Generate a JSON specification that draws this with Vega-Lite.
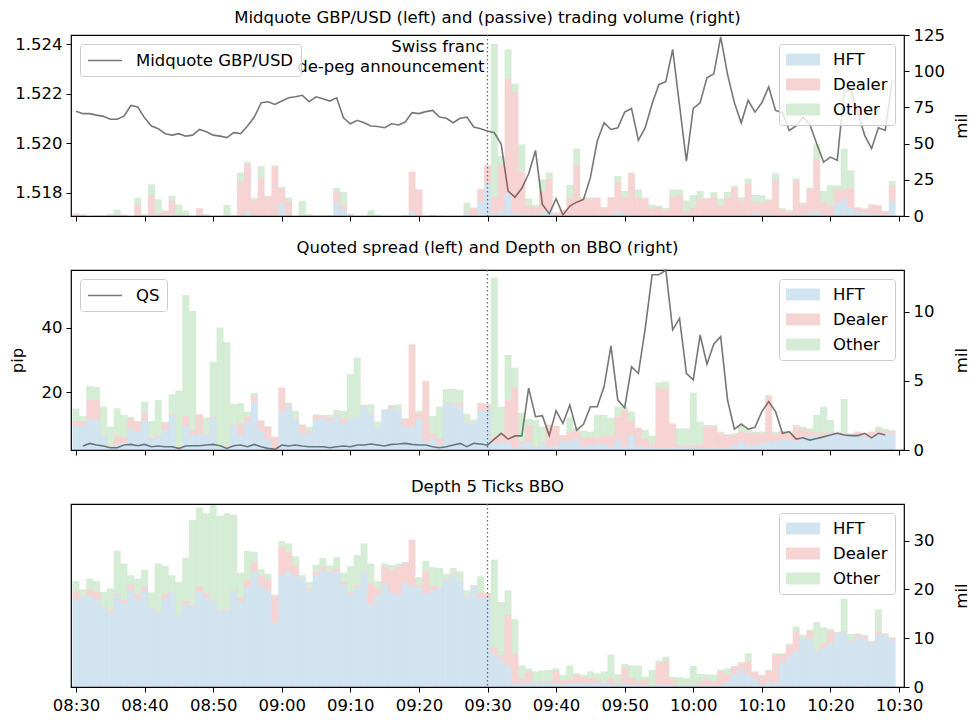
{
"$schema": "https://vega.github.io/schema/vega-lite/v6.json",
"padding": {"left": 8, "top": 8, "right": 5, "bottom": 5},
"background": "white",
"bounds": "flush",
"spacing": 54,
"config": {
  "font": "DejaVu Sans",
  "view": {"stroke": "black", "strokeWidth": 1.2},
  "axis": {"domain": false, "grid": false, "ticks": true, "tickColor": "black", "tickSize": 5, "tickWidth": 1, "labelFontSize": 16.5, "labelColor": "black", "labelFont": "DejaVu Sans", "labelPadding": 4, "labelOverlap": false, "labelFlush": false, "titleFontSize": 16.5, "titleFontWeight": "normal", "titleColor": "black", "titleFont": "DejaVu Sans"},
  "title": {"fontSize": 16.5, "fontWeight": "normal", "font": "DejaVu Sans", "color": "black", "offset": 8, "anchor": "middle"},
  "legend": {"labelFontSize": 16.5, "labelFont": "DejaVu Sans", "labelColor": "black", "labelLimit": 300, "fillColor": "rgba(255,255,255,0.8)", "strokeColor": "#cccccc", "cornerRadius": 3, "padding": 7, "offset": 9, "rowPadding": 8, "symbolSize": 289, "labelOffset": 30}
},
"resolve": {"scale": {"fill": "independent", "stroke": "independent"}},
"datasets": {
"order": [{"type":"HFT","rank":1},{"type":"Dealer","rank":2},{"type":"Other","rank":3}],
"mid": [
{"m":0,"mid":1.52130},{"m":1,"mid":1.52120},{"m":2,"mid":1.52120},{"m":3,"mid":1.52114},{"m":4,"mid":1.52109},{"m":5,"mid":1.52097},{"m":6,"mid":1.52097},{"m":7,"mid":1.52110},{"m":8,"mid":1.52153},{"m":9,"mid":1.52147},
{"m":10,"mid":1.52103},{"m":11,"mid":1.52070},{"m":12,"mid":1.52059},{"m":13,"mid":1.52039},{"m":14,"mid":1.52033},{"m":15,"mid":1.52039},{"m":16,"mid":1.52029},{"m":17,"mid":1.52033},{"m":18,"mid":1.52056},{"m":19,"mid":1.52047},
{"m":20,"mid":1.52033},{"m":21,"mid":1.52029},{"m":22,"mid":1.52023},{"m":23,"mid":1.52043},{"m":24,"mid":1.52039},{"m":25,"mid":1.52070},{"m":26,"mid":1.52106},{"m":27,"mid":1.52164},{"m":28,"mid":1.52168},{"m":29,"mid":1.52157},
{"m":30,"mid":1.52171},{"m":31,"mid":1.52184},{"m":32,"mid":1.52188},{"m":33,"mid":1.52194},{"m":34,"mid":1.52168},{"m":35,"mid":1.52188},{"m":36,"mid":1.52180},{"m":37,"mid":1.52171},{"m":38,"mid":1.52184},{"m":39,"mid":1.52103},
{"m":40,"mid":1.52079},{"m":41,"mid":1.52093},{"m":42,"mid":1.52083},{"m":43,"mid":1.52070},{"m":44,"mid":1.52068},{"m":45,"mid":1.52063},{"m":46,"mid":1.52079},{"m":47,"mid":1.52074},{"m":48,"mid":1.52086},{"m":49,"mid":1.52124},
{"m":50,"mid":1.52120},{"m":51,"mid":1.52128},{"m":52,"mid":1.52133},{"m":53,"mid":1.52106},{"m":54,"mid":1.52101},{"m":55,"mid":1.52083},{"m":56,"mid":1.52101},{"m":57,"mid":1.52106},{"m":58,"mid":1.52066},{"m":59,"mid":1.52059},
{"m":60,"mid":1.52050},{"m":61,"mid":1.52043},{"m":62,"mid":1.51996},{"m":63,"mid":1.51807},{"m":64,"mid":1.51782},{"m":65,"mid":1.51818},{"m":66,"mid":1.51877},{"m":67,"mid":1.51971},{"m":68,"mid":1.51753},{"m":69,"mid":1.51715},
{"m":70,"mid":1.51776},{"m":71,"mid":1.51710},{"m":72,"mid":1.51746},{"m":73,"mid":1.51762},{"m":74,"mid":1.51773},{"m":75,"mid":1.51861},{"m":76,"mid":1.52009},{"m":77,"mid":1.52083},{"m":78,"mid":1.52056},{"m":79,"mid":1.52063},
{"m":80,"mid":1.52126},{"m":81,"mid":1.52141},{"m":82,"mid":1.52012},{"m":83,"mid":1.52063},{"m":84,"mid":1.52160},{"m":85,"mid":1.52238},{"m":86,"mid":1.52249},{"m":87,"mid":1.52380},{"m":88,"mid":1.52153},{"m":89,"mid":1.51928},
{"m":90,"mid":1.52141},{"m":91,"mid":1.52164},{"m":92,"mid":1.52265},{"m":93,"mid":1.52281},{"m":94,"mid":1.52430},{"m":95,"mid":1.52279},{"m":96,"mid":1.52164},{"m":97,"mid":1.52083},{"m":98,"mid":1.52174},{"m":99,"mid":1.52126},
{"m":100,"mid":1.52164},{"m":101,"mid":1.52228},{"m":102,"mid":1.52133},{"m":103,"mid":1.52124},{"m":104,"mid":1.52052},{"m":105,"mid":1.52070},{"m":106,"mid":1.52106},{"m":107,"mid":1.52076},{"m":108,"mid":1.51998},{"m":109,"mid":1.51924},
{"m":110,"mid":1.51944},{"m":111,"mid":1.51931},{"m":112,"mid":1.52211},{"m":113,"mid":1.52214},{"m":114,"mid":1.52124},{"m":115,"mid":1.52032},{"m":116,"mid":1.51979},{"m":117,"mid":1.52063},{"m":118,"mid":1.52052},{"m":119,"mid":1.52254}
],
"qs": [
{"m":1,"qs":3.13},{"m":2,"qs":3.96},{"m":3,"qs":3.44},{"m":4,"qs":3.13},{"m":5,"qs":2.6},{"m":6,"qs":2.6},{"m":7,"qs":3.44},{"m":8,"qs":3.65},{"m":9,"qs":3.23},
{"m":10,"qs":3.65},{"m":11,"qs":2.92},{"m":12,"qs":3.13},{"m":13,"qs":2.92},{"m":14,"qs":2.92},{"m":15,"qs":2.4},{"m":16,"qs":3.13},{"m":17,"qs":3.23},{"m":18,"qs":3.23},{"m":19,"qs":3.44},
{"m":20,"qs":3.65},{"m":21,"qs":3.23},{"m":22,"qs":2.4},{"m":23,"qs":3.23},{"m":24,"qs":3.44},{"m":25,"qs":2.92},{"m":26,"qs":3.65},{"m":27,"qs":2.92},{"m":28,"qs":2.4},{"m":29,"qs":2.1},
{"m":30,"qs":3.44},{"m":31,"qs":3.13},{"m":32,"qs":3.44},{"m":33,"qs":3.13},{"m":34,"qs":2.92},{"m":35,"qs":2.92},{"m":36,"qs":2.92},{"m":37,"qs":2.6},{"m":38,"qs":2.92},{"m":39,"qs":3.13},
{"m":40,"qs":2.92},{"m":41,"qs":3.44},{"m":42,"qs":3.44},{"m":43,"qs":3.75},{"m":44,"qs":3.44},{"m":45,"qs":3.13},{"m":46,"qs":3.65},{"m":47,"qs":3.75},{"m":48,"qs":3.96},{"m":49,"qs":3.65},
{"m":50,"qs":3.44},{"m":51,"qs":3.44},{"m":52,"qs":2.92},{"m":53,"qs":2.6},{"m":54,"qs":2.92},{"m":55,"qs":3.44},{"m":56,"qs":3.96},{"m":57,"qs":2.92},{"m":58,"qs":3.96},{"m":59,"qs":3.75},
{"m":60,"qs":3.4},{"m":61,"qs":5.3},{"m":62,"qs":7.1},{"m":63,"qs":5.3},{"m":64,"qs":6.3},{"m":65,"qs":6.3},{"m":66,"qs":21.2},{"m":67,"qs":12.3},{"m":68,"qs":12.6},{"m":69,"qs":6.4},
{"m":70,"qs":14.2},{"m":71,"qs":10.2},{"m":72,"qs":15.9},{"m":73,"qs":8.1},{"m":74,"qs":9.9},{"m":75,"qs":15.4},{"m":76,"qs":15.4},{"m":77,"qs":21.7},{"m":78,"qs":34.4},{"m":79,"qs":17.5},
{"m":80,"qs":15.1},{"m":81,"qs":27.9},{"m":82,"qs":25.8},{"m":83,"qs":39.9},{"m":84,"qs":56.6},{"m":85,"qs":56.6},{"m":86,"qs":58.1},{"m":87,"qs":39.4},{"m":88,"qs":43.0},{"m":89,"qs":25.8},
{"m":90,"qs":23.8},{"m":91,"qs":37.8},{"m":92,"qs":28.7},{"m":93,"qs":35.0},{"m":94,"qs":37.3},{"m":95,"qs":17.5},{"m":96,"qs":8.4},{"m":97,"qs":10.0},{"m":98,"qs":8.4},{"m":99,"qs":9.0},
{"m":100,"qs":13.9},{"m":101,"qs":17.0},{"m":102,"qs":13.9},{"m":103,"qs":7.1},{"m":104,"qs":7.6},{"m":105,"qs":5.3},{"m":106,"qs":5.7},{"m":107,"qs":5.0},{"m":108,"qs":5.5},{"m":109,"qs":6.0},
{"m":110,"qs":6.6},{"m":111,"qs":7.1},{"m":112,"qs":6.6},{"m":113,"qs":6.4},{"m":114,"qs":6.4},{"m":115,"qs":7.1},{"m":116,"qs":5.7},{"m":117,"qs":7.1},{"m":118,"qs":6.6}
],
"vol": [
{"m":0,"HFT":0,"Dealer":1.5,"Other":0.3},{"m":1,"HFT":0,"Dealer":1,"Other":0},{"m":2,"HFT":0,"Dealer":0,"Other":0},{"m":3,"HFT":0,"Dealer":0.3,"Other":0},{"m":4,"HFT":0,"Dealer":0,"Other":0.5},
{"m":5,"HFT":0,"Dealer":0.5,"Other":1},{"m":6,"HFT":0.3,"Dealer":0.5,"Other":3.5},{"m":7,"HFT":0,"Dealer":1,"Other":0},{"m":8,"HFT":0,"Dealer":0,"Other":0},{"m":9,"HFT":0,"Dealer":7.6,"Other":5},
{"m":10,"HFT":0,"Dealer":0.3,"Other":1},{"m":11,"HFT":0.5,"Dealer":14,"Other":7.4},{"m":12,"HFT":0.5,"Dealer":1,"Other":10},{"m":13,"HFT":0,"Dealer":3.5,"Other":0.3},{"m":14,"HFT":1,"Dealer":9.5,"Other":3.5},
{"m":15,"HFT":0.3,"Dealer":0.5,"Other":7},{"m":16,"HFT":0,"Dealer":0.3,"Other":3.5},{"m":17,"HFT":0,"Dealer":0,"Other":0},{"m":18,"HFT":0,"Dealer":5.3,"Other":0},{"m":19,"HFT":0,"Dealer":0.3,"Other":1},
{"m":20,"HFT":0,"Dealer":0,"Other":0},{"m":21,"HFT":0,"Dealer":0,"Other":0},{"m":22,"HFT":0,"Dealer":0,"Other":7.6},{"m":23,"HFT":0,"Dealer":0.5,"Other":0},{"m":24,"HFT":0,"Dealer":23.5,"Other":6.4},
{"m":25,"HFT":2.8,"Dealer":33,"Other":1.6},{"m":26,"HFT":0,"Dealer":10.8,"Other":1.8},{"m":27,"HFT":0,"Dealer":26.5,"Other":8},{"m":28,"HFT":0,"Dealer":13.5,"Other":0.5},{"m":29,"HFT":0,"Dealer":34.3,"Other":0.7},
{"m":30,"HFT":8.5,"Dealer":10.4,"Other":1.2},{"m":31,"HFT":0,"Dealer":10.4,"Other":2.3},{"m":32,"HFT":0,"Dealer":0,"Other":0},{"m":33,"HFT":0,"Dealer":0.5,"Other":10},{"m":34,"HFT":0,"Dealer":0.3,"Other":1},
{"m":35,"HFT":0,"Dealer":0.5,"Other":0},{"m":36,"HFT":0,"Dealer":0.5,"Other":0},{"m":37,"HFT":0,"Dealer":0.5,"Other":0},{"m":38,"HFT":9.2,"Dealer":8,"Other":2.3},{"m":39,"HFT":4.6,"Dealer":3,"Other":9},
{"m":40,"HFT":0,"Dealer":1.5,"Other":0},{"m":41,"HFT":0,"Dealer":0,"Other":0},{"m":42,"HFT":0,"Dealer":0,"Other":0},{"m":43,"HFT":0,"Dealer":0,"Other":4},{"m":44,"HFT":0,"Dealer":0,"Other":1},
{"m":45,"HFT":0,"Dealer":0,"Other":0},{"m":46,"HFT":0,"Dealer":0,"Other":0},{"m":47,"HFT":0,"Dealer":0,"Other":0},{"m":48,"HFT":0,"Dealer":0.5,"Other":0},{"m":49,"HFT":3,"Dealer":27.4,"Other":0.3},
{"m":50,"HFT":0,"Dealer":18.4,"Other":0},{"m":51,"HFT":0,"Dealer":0.3,"Other":0},{"m":52,"HFT":0,"Dealer":1,"Other":0},{"m":53,"HFT":0,"Dealer":0.3,"Other":0},{"m":54,"HFT":0,"Dealer":0,"Other":0},
{"m":55,"HFT":0,"Dealer":0,"Other":0},{"m":56,"HFT":0,"Dealer":0,"Other":0},{"m":57,"HFT":2.3,"Dealer":1.2,"Other":5.7},{"m":58,"HFT":0,"Dealer":5.8,"Other":0},{"m":59,"HFT":9.7,"Dealer":8.9,"Other":0},
{"m":60,"HFT":22.3,"Dealer":12.9,"Other":0},{"m":61,"HFT":1,"Dealer":12,"Other":106},{"m":62,"HFT":3.5,"Dealer":31.7,"Other":6.2},{"m":63,"HFT":15.4,"Dealer":79.4,"Other":20.3},{"m":64,"HFT":2,"Dealer":83.6,"Other":5.8},
{"m":65,"HFT":1.5,"Dealer":29,"Other":19},{"m":66,"HFT":1,"Dealer":6,"Other":5},{"m":67,"HFT":1,"Dealer":5,"Other":1.6},{"m":68,"HFT":2,"Dealer":15.3,"Other":8},{"m":69,"HFT":4,"Dealer":22,"Other":4},
{"m":70,"HFT":0,"Dealer":2,"Other":0.5},{"m":71,"HFT":0.5,"Dealer":4,"Other":0},{"m":72,"HFT":0.5,"Dealer":12,"Other":9},{"m":73,"HFT":0.5,"Dealer":34.5,"Other":11.5},{"m":74,"HFT":0.5,"Dealer":12,"Other":0.5},
{"m":75,"HFT":0.5,"Dealer":11,"Other":1.3},{"m":76,"HFT":0.5,"Dealer":12,"Other":0.3},{"m":77,"HFT":0.3,"Dealer":5.5,"Other":0.3},{"m":78,"HFT":0.5,"Dealer":12.2,"Other":0.3},{"m":79,"HFT":3,"Dealer":20.5,"Other":4.1},
{"m":80,"HFT":1.6,"Dealer":11.5,"Other":4.2},{"m":81,"HFT":0.5,"Dealer":29,"Other":0.5},{"m":82,"HFT":0.3,"Dealer":12.8,"Other":5.3},{"m":83,"HFT":0.3,"Dealer":11.2,"Other":1.2},{"m":84,"HFT":0,"Dealer":5,"Other":3},
{"m":85,"HFT":0,"Dealer":6.2,"Other":1},{"m":86,"HFT":0,"Dealer":4,"Other":1.5},{"m":87,"HFT":0,"Dealer":13,"Other":5.3},{"m":88,"HFT":0,"Dealer":14.5,"Other":3.7},{"m":89,"HFT":0,"Dealer":3,"Other":7.8},
{"m":90,"HFT":0,"Dealer":5.8,"Other":8.7},{"m":91,"HFT":0,"Dealer":12.2,"Other":5},{"m":92,"HFT":0,"Dealer":12,"Other":0.3},{"m":93,"HFT":0.2,"Dealer":12.8,"Other":3.6},{"m":94,"HFT":0.5,"Dealer":6.5,"Other":5},
{"m":95,"HFT":0.5,"Dealer":12.2,"Other":3.9},{"m":96,"HFT":0.5,"Dealer":19,"Other":1.2},{"m":97,"HFT":0.5,"Dealer":10.3,"Other":2.2},{"m":98,"HFT":0.7,"Dealer":21.6,"Other":3.5},{"m":99,"HFT":2,"Dealer":7.9,"Other":4.6},
{"m":100,"HFT":0.5,"Dealer":8.7,"Other":5.1},{"m":101,"HFT":1,"Dealer":9.8,"Other":0.7},{"m":102,"HFT":0.5,"Dealer":24.8,"Other":4.2},{"m":103,"HFT":0.3,"Dealer":4.3,"Other":0.7},{"m":104,"HFT":0,"Dealer":2.8,"Other":1.3},
{"m":105,"HFT":1,"Dealer":23.2,"Other":1.8},{"m":106,"HFT":1,"Dealer":7.5,"Other":0.9},{"m":107,"HFT":2,"Dealer":16.9,"Other":0.7},{"m":108,"HFT":3,"Dealer":36.6,"Other":9.9},{"m":109,"HFT":1,"Dealer":8.7,"Other":7.6},
{"m":110,"HFT":1,"Dealer":6.4,"Other":13.8},{"m":111,"HFT":8.7,"Dealer":9.7,"Other":2.8},{"m":112,"HFT":11.5,"Dealer":6.9,"Other":28.1},{"m":113,"HFT":5.8,"Dealer":13.3,"Other":12.4},{"m":114,"HFT":2.3,"Dealer":3.5,"Other":0.3},
{"m":115,"HFT":2,"Dealer":3,"Other":0.3},{"m":116,"HFT":1.5,"Dealer":6.3,"Other":0.3},{"m":117,"HFT":1,"Dealer":6.4,"Other":0.2},{"m":118,"HFT":0.8,"Dealer":2.7,"Other":0},{"m":119,"HFT":10.4,"Dealer":10.8,"Other":3}
],
"bbo": [
{"m":0,"HFT":1.76,"Dealer":0.34,"Other":0.9},{"m":1,"HFT":1.76,"Dealer":0.34,"Other":0.36},{"m":2,"HFT":2.25,"Dealer":1.37,"Other":1.02},{"m":3,"HFT":2.17,"Dealer":1.45,"Other":0.95},{"m":4,"HFT":1.09,"Dealer":0.05,"Other":2.0},
{"m":5,"HFT":0.17,"Dealer":0.1,"Other":1.42},{"m":6,"HFT":0.36,"Dealer":0.68,"Other":1.98},{"m":7,"HFT":0.48,"Dealer":0.48,"Other":1.58},{"m":8,"HFT":1.52,"Dealer":0.77,"Other":0.12},{"m":9,"HFT":1.33,"Dealer":0.72,"Other":0.05},
{"m":10,"HFT":2.17,"Dealer":0.53,"Other":0.8},{"m":11,"HFT":0.72,"Dealer":0.13,"Other":1.25},{"m":12,"HFT":0.92,"Dealer":0.12,"Other":2.58},{"m":13,"HFT":1.45,"Dealer":0.53,"Other":0.05},{"m":14,"HFT":2.49,"Dealer":0.1,"Other":1.44},
{"m":15,"HFT":0.1,"Dealer":0.1,"Other":4.1},{"m":16,"HFT":1.69,"Dealer":0.77,"Other":8.77},{"m":17,"HFT":1.09,"Dealer":0.36,"Other":8.62},{"m":18,"HFT":1.14,"Dealer":1.45,"Other":0},{"m":19,"HFT":1.04,"Dealer":0.1,"Other":1.2},
{"m":20,"HFT":2.34,"Dealer":0.08,"Other":3.98},{"m":21,"HFT":0.29,"Dealer":0.07,"Other":8.5},{"m":22,"HFT":0.24,"Dealer":0.1,"Other":7.46},{"m":23,"HFT":1.81,"Dealer":0.05,"Other":1.47},{"m":24,"HFT":1.09,"Dealer":0.84,"Other":1.47},
{"m":25,"HFT":2.05,"Dealer":0.37,"Other":0.36},{"m":26,"HFT":3.5,"Dealer":0.41,"Other":0.22},{"m":27,"HFT":1.4,"Dealer":0.7,"Other":0.05},{"m":28,"HFT":0.72,"Dealer":0.95,"Other":0.05},{"m":29,"HFT":0.05,"Dealer":0.9,"Other":0},
{"m":30,"HFT":2.78,"Dealer":1.74,"Other":0},{"m":31,"HFT":3.19,"Dealer":0.12,"Other":0.12},{"m":32,"HFT":2.25,"Dealer":0.05,"Other":0.53},{"m":33,"HFT":1.21,"Dealer":0.6,"Other":0.05},{"m":34,"HFT":1.21,"Dealer":0.17,"Other":0.31},
{"m":35,"HFT":2.22,"Dealer":0.32,"Other":0.04},{"m":36,"HFT":2.34,"Dealer":0.15,"Other":0.05},{"m":37,"HFT":2.1,"Dealer":0.24,"Other":0.2},{"m":38,"HFT":2.42,"Dealer":0.12,"Other":0.36},{"m":39,"HFT":1.93,"Dealer":0.36,"Other":0.54},
{"m":40,"HFT":2.25,"Dealer":0.04,"Other":3.21},{"m":41,"HFT":2.3,"Dealer":0.05,"Other":4.35},{"m":42,"HFT":3.19,"Dealer":0.03,"Other":0.05},{"m":43,"HFT":2.66,"Dealer":0.03,"Other":0.62},{"m":44,"HFT":1.57,"Dealer":0.02,"Other":0.46},
{"m":45,"HFT":2.9,"Dealer":0.03,"Other":0.02},{"m":46,"HFT":3.02,"Dealer":0.19,"Other":0.05},{"m":47,"HFT":2.9,"Dealer":0.05,"Other":0.36},{"m":48,"HFT":1.69,"Dealer":0.6,"Other":0},{"m":49,"HFT":1.62,"Dealer":6.04,"Other":0},
{"m":50,"HFT":2.25,"Dealer":0.41,"Other":0.17},{"m":51,"HFT":0.6,"Dealer":4.4,"Other":0},{"m":52,"HFT":0.85,"Dealer":0.35,"Other":1.26},{"m":53,"HFT":0.36,"Dealer":0.49,"Other":2.29},{"m":54,"HFT":3.38,"Dealer":0.05,"Other":0.99},
{"m":55,"HFT":3.31,"Dealer":0.07,"Other":1.04},{"m":56,"HFT":3.14,"Dealer":0.24,"Other":0.97},{"m":57,"HFT":2.0,"Dealer":0.05,"Other":0.56},{"m":58,"HFT":2.0,"Dealer":0.05,"Other":0.17},{"m":59,"HFT":2.85,"Dealer":0.53,"Other":0.05},
{"m":60,"HFT":2.9,"Dealer":0.35,"Other":0.1},{"m":61,"HFT":0.48,"Dealer":0.49,"Other":11.52},{"m":62,"HFT":0.6,"Dealer":0.6,"Other":1.93},{"m":63,"HFT":0.48,"Dealer":3.14,"Other":3.26},{"m":64,"HFT":0.12,"Dealer":4.35,"Other":1.5},
{"m":65,"HFT":0.4,"Dealer":0.2,"Other":2.1},{"m":66,"HFT":0.56,"Dealer":1.25,"Other":0.44},{"m":67,"HFT":0.17,"Dealer":0.07,"Other":1.93},{"m":68,"HFT":0.48,"Dealer":0.12,"Other":1.09},{"m":69,"HFT":0.17,"Dealer":1.64,"Other":0.05},
{"m":70,"HFT":0.29,"Dealer":1.47,"Other":0},{"m":71,"HFT":0.65,"Dealer":0.39,"Other":0.05},{"m":72,"HFT":0.65,"Dealer":0.63,"Other":1.06},{"m":73,"HFT":0.8,"Dealer":0.65,"Other":0.12},{"m":74,"HFT":0.29,"Dealer":0.6,"Other":0.51},
{"m":75,"HFT":0.36,"Dealer":0.61,"Other":0.36},{"m":76,"HFT":0.41,"Dealer":0.44,"Other":1.69},{"m":77,"HFT":0.43,"Dealer":0.61,"Other":1.5},{"m":78,"HFT":0.24,"Dealer":0.8,"Other":1.3},{"m":79,"HFT":0.72,"Dealer":1.7,"Other":0.72},
{"m":80,"HFT":0.24,"Dealer":2.66,"Other":0.24},{"m":81,"HFT":1.09,"Dealer":1.01,"Other":0.68},{"m":82,"HFT":0.24,"Dealer":1.33,"Other":0.05},{"m":83,"HFT":0.24,"Dealer":0.61,"Other":0.6},{"m":84,"HFT":0.17,"Dealer":0.31,"Other":0.56},
{"m":85,"HFT":0.12,"Dealer":4.47,"Other":0.31},{"m":86,"HFT":0.12,"Dealer":4.3,"Other":0.53},{"m":87,"HFT":0.17,"Dealer":1.74,"Other":0.02},{"m":88,"HFT":0.24,"Dealer":0.12,"Other":1.21},{"m":89,"HFT":0.24,"Dealer":0.12,"Other":1.21},
{"m":90,"HFT":0.24,"Dealer":0.12,"Other":3.79},{"m":91,"HFT":0.12,"Dealer":0.29,"Other":1.64},{"m":92,"HFT":0.12,"Dealer":1.57,"Other":0.12},{"m":93,"HFT":0.17,"Dealer":1.52,"Other":0.12},{"m":94,"HFT":0.12,"Dealer":1.09,"Other":0.12},
{"m":95,"HFT":0.17,"Dealer":0.92,"Other":0.05},{"m":96,"HFT":0.36,"Dealer":0.78,"Other":0.07},{"m":97,"HFT":0.6,"Dealer":0.73,"Other":0.48},{"m":98,"HFT":0.36,"Dealer":0.9,"Other":0.24},{"m":99,"HFT":0.36,"Dealer":0.85,"Other":0.12},
{"m":100,"HFT":0.48,"Dealer":0.73,"Other":0.12},{"m":101,"HFT":0.6,"Dealer":3.26,"Other":0.13},{"m":102,"HFT":0.65,"Dealer":0.49,"Other":0.19},{"m":103,"HFT":0.72,"Dealer":0.61,"Other":0.07},{"m":104,"HFT":0.72,"Dealer":0.49,"Other":0.12},
{"m":105,"HFT":0.65,"Dealer":1.04,"Other":0.12},{"m":106,"HFT":0.89,"Dealer":0.63,"Other":0.17},{"m":107,"HFT":1.04,"Dealer":0.29,"Other":0.24},{"m":108,"HFT":1.04,"Dealer":0.24,"Other":1.26},{"m":109,"HFT":0.97,"Dealer":0.24,"Other":1.93},
{"m":110,"HFT":1.21,"Dealer":0.12,"Other":0.84},{"m":111,"HFT":1.21,"Dealer":0.07,"Other":0.05},{"m":112,"HFT":1.09,"Dealer":0.12,"Other":2.49},{"m":113,"HFT":1.09,"Dealer":0.05,"Other":0.07},{"m":114,"HFT":1.04,"Dealer":0.29,"Other":0},
{"m":115,"HFT":0.97,"Dealer":0.24,"Other":0},{"m":116,"HFT":0.97,"Dealer":0.36,"Other":0},{"m":117,"HFT":1.14,"Dealer":0.31,"Other":0.24},{"m":118,"HFT":1.21,"Dealer":0.12,"Other":0.19},{"m":119,"HFT":1.21,"Dealer":0.17,"Other":0.05}
],
"d5": [
{"m":0,"HFT":17.9,"Dealer":1.7,"Other":2.1},{"m":1,"HFT":18.3,"Dealer":0.3,"Other":1.4},{"m":2,"HFT":18.7,"Dealer":1.3,"Other":2.2},{"m":3,"HFT":17.8,"Dealer":1.8,"Other":2.1},{"m":4,"HFT":16.4,"Dealer":0.1,"Other":3.0},
{"m":5,"HFT":15.3,"Dealer":0.6,"Other":4.3},{"m":6,"HFT":18.6,"Dealer":0.5,"Other":8.8},{"m":7,"HFT":17.2,"Dealer":0.7,"Other":7.4},{"m":8,"HFT":19.8,"Dealer":1.2,"Other":1.9},{"m":9,"HFT":18.1,"Dealer":1.0,"Other":3.1},
{"m":10,"HFT":19.8,"Dealer":0.9,"Other":3.3},{"m":11,"HFT":16.2,"Dealer":0.1,"Other":3.1},{"m":12,"HFT":15.2,"Dealer":0.3,"Other":9.8},{"m":13,"HFT":18.1,"Dealer":1.0,"Other":5.7},{"m":14,"HFT":19.3,"Dealer":0.1,"Other":3.5},
{"m":15,"HFT":14.7,"Dealer":0.1,"Other":6.7},{"m":16,"HFT":16.9,"Dealer":0.8,"Other":8.8},{"m":17,"HFT":16.5,"Dealer":0.2,"Other":17.5},{"m":18,"HFT":19.4,"Dealer":1.3,"Other":16.1},{"m":19,"HFT":18.3,"Dealer":1.0,"Other":16.3},
{"m":20,"HFT":17.7,"Dealer":0.2,"Other":19.4},{"m":21,"HFT":15.7,"Dealer":0.2,"Other":19.2},{"m":22,"HFT":15.7,"Dealer":0.2,"Other":19.7},{"m":23,"HFT":19.6,"Dealer":0.2,"Other":15.5},{"m":24,"HFT":17.4,"Dealer":0.9,"Other":5.1},
{"m":25,"HFT":20.5,"Dealer":1.5,"Other":5.9},{"m":26,"HFT":23.5,"Dealer":2.1,"Other":2.1},{"m":27,"HFT":20.9,"Dealer":2.0,"Other":1.2},{"m":28,"HFT":19.8,"Dealer":2.2,"Other":1.2},{"m":29,"HFT":13.2,"Dealer":5.4,"Other":0.3},
{"m":30,"HFT":22.7,"Dealer":6.0,"Other":1.2},{"m":31,"HFT":23.7,"Dealer":4.0,"Other":1.7},{"m":32,"HFT":22.7,"Dealer":2.3,"Other":1.8},{"m":33,"HFT":22.4,"Dealer":0.1,"Other":0.4},{"m":34,"HFT":19.8,"Dealer":0.4,"Other":1.3},
{"m":35,"HFT":22.9,"Dealer":0.8,"Other":1.3},{"m":36,"HFT":23.9,"Dealer":0.7,"Other":1.8},{"m":37,"HFT":23.4,"Dealer":0.3,"Other":1.2},{"m":38,"HFT":23.6,"Dealer":0.7,"Other":2.3},{"m":39,"HFT":20.8,"Dealer":0.7,"Other":1.9},
{"m":40,"HFT":19.1,"Dealer":0.3,"Other":5.4},{"m":41,"HFT":20.5,"Dealer":0.2,"Other":6.3},{"m":42,"HFT":23.4,"Dealer":0.2,"Other":5.8},{"m":43,"HFT":16.9,"Dealer":4.4,"Other":4.0},{"m":44,"HFT":18.8,"Dealer":1.4,"Other":1.5},
{"m":45,"HFT":21.0,"Dealer":3.6,"Other":0.7},{"m":46,"HFT":19.3,"Dealer":4.8,"Other":0.9},{"m":47,"HFT":18.9,"Dealer":5.7,"Other":0.7},{"m":48,"HFT":21.5,"Dealer":4.0,"Other":0.1},{"m":49,"HFT":20.7,"Dealer":9.4,"Other":0.1},
{"m":50,"HFT":20.5,"Dealer":0.5,"Other":1.5},{"m":51,"HFT":19.1,"Dealer":4.6,"Other":2.1},{"m":52,"HFT":19.8,"Dealer":1.0,"Other":3.8},{"m":53,"HFT":20.3,"Dealer":0.2,"Other":3.9},{"m":54,"HFT":21.9,"Dealer":0.3,"Other":1.0},
{"m":55,"HFT":23.1,"Dealer":0.3,"Other":1.0},{"m":56,"HFT":21.6,"Dealer":0.1,"Other":2.0},{"m":57,"HFT":18.5,"Dealer":0.2,"Other":1.1},{"m":58,"HFT":20.5,"Dealer":0.3,"Other":0.1},{"m":59,"HFT":18.3,"Dealer":1.0,"Other":3.4},
{"m":60,"HFT":18.3,"Dealer":0.8,"Other":0.2},{"m":61,"HFT":6.7,"Dealer":1.3,"Other":18.1},{"m":62,"HFT":5.6,"Dealer":1.0,"Other":10.8},{"m":63,"HFT":4.3,"Dealer":10.4,"Other":5.1},{"m":64,"HFT":0.8,"Dealer":6.1,"Other":7.0},
{"m":65,"HFT":0.8,"Dealer":1.0,"Other":2.6},{"m":66,"HFT":0.9,"Dealer":2.3,"Other":0.6},{"m":67,"HFT":0.8,"Dealer":0.1,"Other":2.3},{"m":68,"HFT":0.9,"Dealer":0.3,"Other":2.2},{"m":69,"HFT":0.8,"Dealer":0.4,"Other":2.3},
{"m":70,"HFT":0.8,"Dealer":2.5,"Other":0.5},{"m":71,"HFT":0.6,"Dealer":0.8,"Other":1.1},{"m":72,"HFT":0.8,"Dealer":0.8,"Other":2.8},{"m":73,"HFT":0.8,"Dealer":1.8,"Other":0.2},{"m":74,"HFT":0.8,"Dealer":1.3,"Other":0.4},
{"m":75,"HFT":0.8,"Dealer":1.1,"Other":1.3},{"m":76,"HFT":0.8,"Dealer":1.0,"Other":1.0},{"m":77,"HFT":0.8,"Dealer":0.1,"Other":2.3},{"m":78,"HFT":0.6,"Dealer":1.3,"Other":4.7},{"m":79,"HFT":0.4,"Dealer":0.4,"Other":1.8},
{"m":80,"HFT":0.8,"Dealer":3.2,"Other":0.7},{"m":81,"HFT":0.4,"Dealer":1.5,"Other":2.5},{"m":82,"HFT":0.4,"Dealer":0.7,"Other":3.3},{"m":83,"HFT":0.4,"Dealer":1.0,"Other":0.7},{"m":84,"HFT":0.2,"Dealer":0.2,"Other":3.1},
{"m":85,"HFT":0.4,"Dealer":4.5,"Other":0.5},{"m":86,"HFT":0.4,"Dealer":5.0,"Other":0.8},{"m":87,"HFT":0.4,"Dealer":1.2,"Other":0.5},{"m":88,"HFT":0.3,"Dealer":0.1,"Other":1.6},{"m":89,"HFT":0.3,"Dealer":0.1,"Other":1.4},
{"m":90,"HFT":0.3,"Dealer":0.1,"Other":3.9},{"m":91,"HFT":0.3,"Dealer":0.8,"Other":1.6},{"m":92,"HFT":0.5,"Dealer":1.3,"Other":0.8},{"m":93,"HFT":0.3,"Dealer":0.9,"Other":1.3},{"m":94,"HFT":0.4,"Dealer":2.8,"Other":0.3},
{"m":95,"HFT":1.1,"Dealer":1.5,"Other":1.2},{"m":96,"HFT":2.6,"Dealer":1.6,"Other":0.1},{"m":97,"HFT":3.7,"Dealer":1.0,"Other":0.4},{"m":98,"HFT":2.5,"Dealer":2.9,"Other":1.5},{"m":99,"HFT":1.8,"Dealer":1.2,"Other":0.2},
{"m":100,"HFT":0.4,"Dealer":1.9,"Other":0.2},{"m":101,"HFT":1.1,"Dealer":2.2,"Other":0.2},{"m":102,"HFT":0.9,"Dealer":5.6,"Other":0.4},{"m":103,"HFT":4.9,"Dealer":1.8,"Other":0.2},{"m":104,"HFT":6.2,"Dealer":2.3,"Other":0.3},
{"m":105,"HFT":7.4,"Dealer":4.0,"Other":1.0},{"m":106,"HFT":9.9,"Dealer":0.1,"Other":0.7},{"m":107,"HFT":9.9,"Dealer":1.6,"Other":0.2},{"m":108,"HFT":7.4,"Dealer":0.2,"Other":5.7},{"m":109,"HFT":8.0,"Dealer":1.0,"Other":3.2},
{"m":110,"HFT":9.0,"Dealer":2.6,"Other":0.3},{"m":111,"HFT":11.0,"Dealer":0.2,"Other":0.1},{"m":112,"HFT":11.2,"Dealer":0.3,"Other":6.6},{"m":113,"HFT":9.3,"Dealer":0.2,"Other":1.4},{"m":114,"HFT":10.2,"Dealer":0.6,"Other":0.2},
{"m":115,"HFT":10.0,"Dealer":0.4,"Other":0.3},{"m":116,"HFT":8.8,"Dealer":0.5,"Other":0.2},{"m":117,"HFT":10.7,"Dealer":0.6,"Other":4.6},{"m":118,"HFT":10.7,"Dealer":0.1,"Other":0.2},{"m":119,"HFT":9.5,"Dealer":0.5,"Other":0.2}
]
},
"vconcat": [
{
  "width": 833, "height": 181,
  "title": {"text": "Midquote GBP/USD (left) and (passive) trading volume (right)", "offset": 1},
  "encoding": {"x": {"field": "m", "type": "quantitative", "scale": {"domain": [0, 120], "nice": false, "zero": false}, "axis": {"values": [0,10,20,30,40,50,60,70,80,90,100,110,120], "labels": false, "title": null}}},
  "layer": [
    {"layer": [
      {"data": {"name": "mid"}, "mark": {"type": "line", "strokeWidth": 1.6},
       "encoding": {
         "y": {"field": "mid", "type": "quantitative", "scale": {"domain": [1.51706, 1.52438], "nice": false, "zero": false}, "axis": {"orient": "left", "values": [1.518, 1.52, 1.522, 1.524], "format": ".3f", "title": null}},
         "stroke": {"datum": "Midquote GBP/USD", "type": "nominal", "scale": {"range": ["#777777"]}, "legend": {"orient": "top-left", "title": null, "symbolType": "M-1,0H3", "symbolStrokeWidth": 1.6, "symbolFillColor": "transparent", "symbolStrokeColor": "#777777"}}
       }},
      {"data": {"values": [{"m": 60, "note": "Swiss franc\nde-peg announcement"}]},
       "mark": {"type": "text", "align": "right", "baseline": "top", "lineBreak": "\n", "fontSize": 16.5, "lineHeight": 20, "dx": -3, "color": "black"},
       "encoding": {"y": {"datum": 1.52422}, "text": {"field": "note"}}}
    ]},
    {"layer": [
      {"data": {"name": "vol"},
       "transform": [{"fold": ["HFT", "Dealer", "Other"], "as": ["type", "mil"]}, {"lookup": "type", "from": {"data": {"name": "order"}, "key": "type", "fields": ["rank"]}}],
       "mark": {"type": "bar", "orient": "vertical", "width": 6.94, "opacity": 0.2, "clip": true},
       "encoding": {
         "y": {"field": "mil", "type": "quantitative", "stack": "zero", "scale": {"domain": [0, 125], "nice": false}, "axis": {"orient": "right", "values": [0,25,50,75,100,125], "title": "mil", "titleAngle": 270, "titleBaseline": "top", "titlePadding": 9}},
         "fill": {"field": "type", "type": "nominal", "scale": {"domain": ["HFT", "Dealer", "Other"], "range": ["#1f77b4", "#d62728", "#2ca02c"]}, "legend": {"orient": "top-right", "title": null, "symbolType": "M-1,-0.7H3V0.7H-1Z", "symbolOpacity": 0.2, "symbolStrokeWidth": 0}},
         "order": {"field": "rank", "type": "quantitative"}
       }},
      {"data": {"values": [{"m": 60}]}, "mark": {"type": "rule", "strokeDash": [1.5, 2.5], "color": "#666666", "strokeWidth": 1.3}, "encoding": {"x": {"field": "m", "type": "quantitative"}}}
    ]}
  ],
  "resolve": {"scale": {"y": "independent"}}
},
{
  "width": 833, "height": 180,
  "title": {"text": "Quoted spread (left) and Depth on BBO (right)", "offset": 10},
  "encoding": {"x": {"field": "m", "type": "quantitative", "scale": {"domain": [0, 120], "nice": false, "zero": false}, "axis": {"values": [0,10,20,30,40,50,60,70,80,90,100,110,120], "labels": false, "title": null}}},
  "layer": [
    {"data": {"name": "qs"}, "mark": {"type": "line", "strokeWidth": 1.6},
     "encoding": {
       "y": {"field": "qs", "type": "quantitative", "scale": {"domain": [1.9, 58.1], "nice": false, "zero": false}, "axis": {"orient": "left", "values": [20, 40], "title": "pip", "titlePadding": 16}},
       "stroke": {"datum": "QS", "type": "nominal", "scale": {"range": ["#777777"]}, "legend": {"orient": "top-left", "title": null, "symbolType": "M-1,0H3", "symbolStrokeWidth": 1.6, "symbolFillColor": "transparent", "symbolStrokeColor": "#777777"}}
     }},
    {"layer": [
      {"data": {"name": "bbo"},
       "transform": [{"fold": ["HFT", "Dealer", "Other"], "as": ["type", "mil"]}, {"lookup": "type", "from": {"data": {"name": "order"}, "key": "type", "fields": ["rank"]}}],
       "mark": {"type": "bar", "orient": "vertical", "width": 6.94, "opacity": 0.2, "clip": true},
       "encoding": {
         "y": {"field": "mil", "type": "quantitative", "stack": "zero", "scale": {"domain": [0, 13.04], "nice": false}, "axis": {"orient": "right", "values": [0, 5, 10], "title": "mil", "titleAngle": 270, "titleBaseline": "top", "titlePadding": 20}},
         "fill": {"field": "type", "type": "nominal", "scale": {"domain": ["HFT", "Dealer", "Other"], "range": ["#1f77b4", "#d62728", "#2ca02c"]}, "legend": {"orient": "top-right", "title": null, "symbolType": "M-1,-0.7H3V0.7H-1Z", "symbolOpacity": 0.2, "symbolStrokeWidth": 0}},
         "order": {"field": "rank", "type": "quantitative"}
       }},
      {"data": {"values": [{"m": 60}]}, "mark": {"type": "rule", "strokeDash": [1.5, 2.5], "color": "#666666", "strokeWidth": 1.3}, "encoding": {"x": {"field": "m", "type": "quantitative"}}}
    ]}
  ],
  "resolve": {"scale": {"y": "independent"}}
},
{
  "width": 833, "height": 183,
  "title": {"text": "Depth 5 Ticks BBO", "offset": 8},
  "encoding": {"x": {"field": "m", "type": "quantitative", "scale": {"domain": [0, 120], "nice": false, "zero": false}, "axis": {"values": [0,10,20,30,40,50,60,70,80,90,100,110,120], "labelExpr": "timeFormat(datetime(2015, 0, 15, 8, 30 + datum.value), '%H:%M')", "title": null, "labelPadding": 5}}},
  "layer": [
    {"data": {"name": "d5"},
     "transform": [{"fold": ["HFT", "Dealer", "Other"], "as": ["type", "mil"]}, {"lookup": "type", "from": {"data": {"name": "order"}, "key": "type", "fields": ["rank"]}}],
     "mark": {"type": "bar", "orient": "vertical", "width": 6.94, "opacity": 0.2, "clip": true},
     "encoding": {
       "y": {"field": "mil", "type": "quantitative", "stack": "zero", "scale": {"domain": [0, 37.5], "nice": false}, "axis": {"orient": "right", "values": [0, 10, 20, 30], "title": "mil", "titleAngle": 270, "titleBaseline": "top", "titlePadding": 20}},
       "fill": {"field": "type", "type": "nominal", "scale": {"domain": ["HFT", "Dealer", "Other"], "range": ["#1f77b4", "#d62728", "#2ca02c"]}, "legend": {"orient": "top-right", "title": null, "symbolType": "M-1,-0.7H3V0.7H-1Z", "symbolOpacity": 0.2, "symbolStrokeWidth": 0}},
       "order": {"field": "rank", "type": "quantitative"}
     }},
    {"data": {"values": [{"m": 60}]}, "mark": {"type": "rule", "strokeDash": [1.5, 2.5], "color": "#666666", "strokeWidth": 1.3}, "encoding": {"x": {"field": "m", "type": "quantitative"}}}
  ]
}
]
}
